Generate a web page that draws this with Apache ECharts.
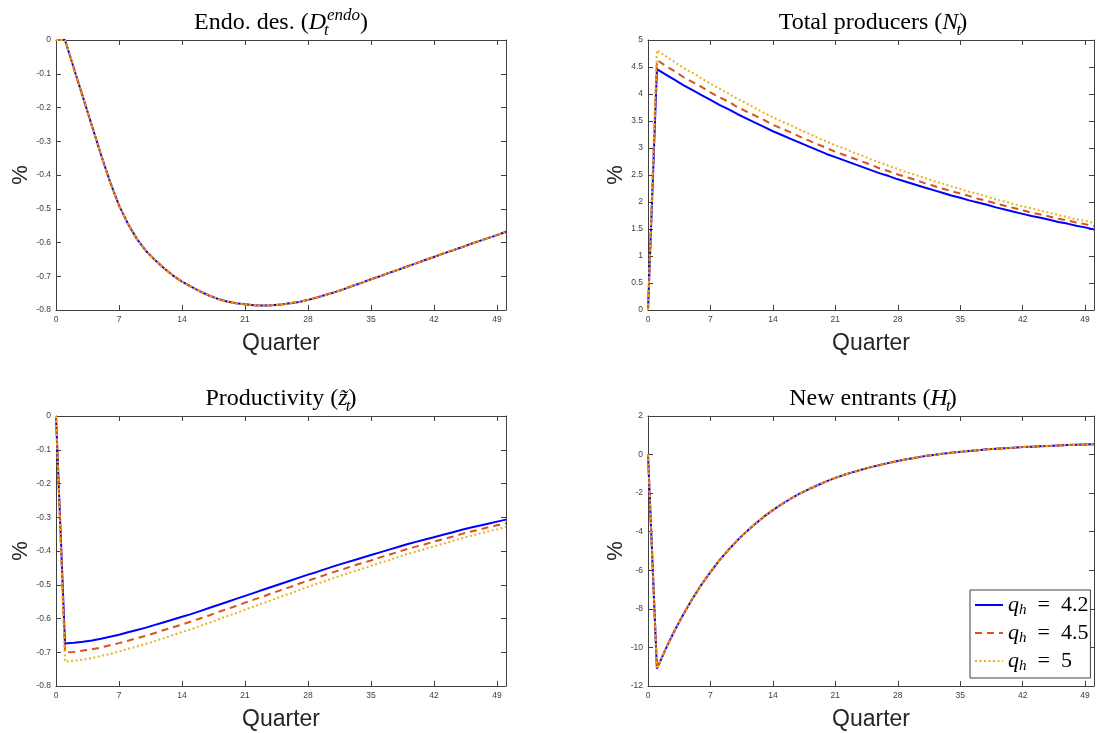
<!DOCTYPE html>
<html>
<head>
<meta charset="utf-8">
<script src="https://cdn.jsdelivr.net/npm/echarts@6.0.0/dist/echarts.min.js"></script>
<style>
  html, body { margin: 0; padding: 0; background: #fff; }
  #graph { width: 1097px; height: 733px; }
</style>
</head>
<body>
<div id="graph"></div>
<script>
var quarters = [0, 1, 2, 3, 4, 5, 6, 7, 8, 9, 10, 11, 12, 13, 14, 15, 16, 17, 18, 19, 20,
  21, 22, 23, 24, 25, 26, 27, 28, 29, 30, 31, 32, 33, 34, 35, 36, 37, 38, 39, 40,
  41, 42, 43, 44, 45, 46, 47, 48, 49, 50];

// endogenous destruction, the three cases overlap
var endoDes = [0, 0, -0.085, -0.17, -0.255, -0.34, -0.42, -0.49, -0.545, -0.59, -0.625,
  -0.652, -0.676, -0.698, -0.716, -0.731, -0.745, -0.757, -0.767, -0.775, -0.780,
  -0.783, -0.786, -0.787, -0.786, -0.784, -0.780, -0.776, -0.770, -0.763, -0.755,
  -0.747, -0.738, -0.728, -0.719, -0.709, -0.700, -0.690, -0.681, -0.671, -0.662,
  -0.652, -0.643, -0.633, -0.624, -0.615, -0.605, -0.596, -0.587, -0.578, -0.568];

var producers42 = [0, 4.46, 4.36, 4.26, 4.16, 4.07, 3.98, 3.89, 3.80, 3.72, 3.63,
  3.55, 3.47, 3.39, 3.31, 3.24, 3.17, 3.10, 3.03, 2.96, 2.89,
  2.83, 2.77, 2.71, 2.65, 2.59, 2.53, 2.48, 2.42, 2.37, 2.32,
  2.27, 2.22, 2.17, 2.12, 2.08, 2.03, 1.99, 1.95, 1.90, 1.86,
  1.82, 1.78, 1.74, 1.71, 1.67, 1.63, 1.60, 1.56, 1.53, 1.49];
var producers45 = [0, 4.63, 4.52, 4.42, 4.31, 4.22, 4.13, 4.03, 3.94, 3.86, 3.76,
  3.68, 3.60, 3.52, 3.43, 3.36, 3.29, 3.21, 3.14, 3.07, 3.00,
  2.93, 2.87, 2.81, 2.75, 2.69, 2.62, 2.57, 2.51, 2.46, 2.41,
  2.35, 2.30, 2.25, 2.20, 2.16, 2.11, 2.06, 2.02, 1.97, 1.93,
  1.89, 1.85, 1.80, 1.77, 1.73, 1.69, 1.66, 1.62, 1.59, 1.55];
var producers50 = [0, 4.81, 4.70, 4.59, 4.48, 4.39, 4.29, 4.19, 4.10, 4.01, 3.91,
  3.83, 3.74, 3.65, 3.57, 3.49, 3.42, 3.34, 3.27, 3.19, 3.12,
  3.05, 2.99, 2.92, 2.86, 2.79, 2.73, 2.67, 2.61, 2.55, 2.50,
  2.45, 2.39, 2.34, 2.29, 2.24, 2.19, 2.15, 2.10, 2.05, 2.01,
  1.96, 1.92, 1.88, 1.84, 1.80, 1.76, 1.72, 1.68, 1.65, 1.61];

var productivity42 = [0, -0.674, -0.672, -0.669, -0.665, -0.660, -0.654, -0.648, -0.641, -0.634, -0.627,
  -0.619, -0.611, -0.603, -0.595, -0.587, -0.578, -0.569, -0.560, -0.551, -0.542,
  -0.533, -0.524, -0.515, -0.506, -0.497, -0.488, -0.479, -0.470, -0.462, -0.453,
  -0.444, -0.436, -0.428, -0.420, -0.412, -0.404, -0.396, -0.388, -0.380, -0.373,
  -0.366, -0.359, -0.352, -0.345, -0.338, -0.331, -0.325, -0.319, -0.313, -0.307];
var productivity45 = [0, -0.701, -0.699, -0.695, -0.691, -0.686, -0.679, -0.673, -0.666, -0.658, -0.651,
  -0.643, -0.634, -0.626, -0.618, -0.609, -0.600, -0.591, -0.581, -0.572, -0.563,
  -0.553, -0.544, -0.535, -0.525, -0.516, -0.507, -0.497, -0.488, -0.479, -0.470,
  -0.461, -0.453, -0.444, -0.436, -0.428, -0.419, -0.411, -0.403, -0.394, -0.387,
  -0.380, -0.372, -0.365, -0.358, -0.350, -0.343, -0.337, -0.330, -0.324, -0.318];
var productivity50 = [0, -0.728, -0.725, -0.722, -0.717, -0.711, -0.705, -0.698, -0.690, -0.683, -0.675,
  -0.667, -0.658, -0.649, -0.640, -0.632, -0.622, -0.613, -0.603, -0.593, -0.584,
  -0.574, -0.564, -0.555, -0.545, -0.535, -0.526, -0.516, -0.506, -0.497, -0.488,
  -0.479, -0.470, -0.461, -0.453, -0.444, -0.435, -0.427, -0.418, -0.409, -0.402,
  -0.394, -0.386, -0.379, -0.371, -0.363, -0.356, -0.349, -0.342, -0.336, -0.329];

// new entrants, the three cases overlap
var entrants = [0, -11.1, -10.06, -9.11, -8.25, -7.46, -6.74, -6.09, -5.49, -4.95, -4.46,
  -4.01, -3.60, -3.22, -2.88, -2.57, -2.29, -2.03, -1.80, -1.59, -1.39,
  -1.21, -1.05, -0.91, -0.77, -0.65, -0.54, -0.43, -0.33, -0.24, -0.16,
  -0.08, -0.02, 0.04, 0.09, 0.14, 0.19, 0.23, 0.27, 0.30, 0.33,
  0.36, 0.39, 0.41, 0.43, 0.45, 0.47, 0.49, 0.51, 0.52, 0.53];

var seriesNames = ['qh = 4.2', 'qh = 4.5', 'qh = 5'];
var titles = [
  '{r|Endo. des. (}{i|D}{sub|t}{sup|endo}{r|)}',
  '{r|Total producers (}{i|N}{sub|t}{r|)}',
  '{r|Productivity (}{i|z\u0303}{sub|t}{r|)}',
  '{r|New entrants (}{i|H}{sub|t}{r|)}'
];

var lineStyles = [
  { color: '#0000ff', width: 2, type: 'solid' },
  { color: '#d95319', width: 2, type: [7, 5] },
  { color: '#edb120', width: 2, type: [2, 2.5] }
];

var panels = [
  { left: 56, top: 40, min: -0.8, max: 0, interval: 0.1, gap: 24, lines: [endoDes, endoDes, endoDes] },
  { left: 648, top: 40, min: 0, max: 5, interval: 0.5, gap: 17, lines: [producers42, producers45, producers50] },
  { left: 56, top: 416, min: -0.8, max: 0, interval: 0.1, gap: 24, lines: [productivity42, productivity45, productivity50] },
  { left: 648, top: 416, min: -12, max: 2, interval: 2, gap: 17, lines: [entrants, entrants, entrants] }
];

var axisColor = '#404040';
var grids = [], xAxes = [], yAxes = [], series = [], graphics = [];

var titleRich = {
  r: { fontFamily: 'Liberation Serif', fontSize: 24, lineHeight: 32, color: '#000' },
  i: { fontFamily: 'Liberation Serif', fontSize: 24, fontStyle: 'italic', lineHeight: 32, color: '#000' },
  sub: { fontFamily: 'Liberation Serif', fontSize: 17, fontStyle: 'italic', lineHeight: 18, verticalAlign: 'bottom', width: 1, color: '#000' },
  sup: { fontFamily: 'Liberation Serif', fontSize: 17, fontStyle: 'italic', lineHeight: 20, verticalAlign: 'top', color: '#000' }
};

panels.forEach(function (p, k) {
  grids.push({ left: p.left, top: p.top, width: 450, height: 270, containLabel: false });
  ['bottom', 'top'].forEach(function (pos) {
    xAxes.push({
      type: 'value', gridIndex: k, position: pos, min: 0, max: 50, interval: 7,
      axisLine: { show: true, onZero: false, lineStyle: { color: axisColor, width: 1 } },
      axisTick: { show: true, inside: true, length: 5, lineStyle: { color: axisColor } },
      axisLabel: {
        show: pos === 'bottom', fontSize: 8.5, color: '#404040', margin: 5,
        fontFamily: 'Liberation Sans',
        formatter: function (v) { return v === 50 ? '' : String(v); }
      },
      splitLine: { show: false },
      name: pos === 'bottom' ? 'Quarter' : '',
      nameLocation: 'middle', nameGap: 22,
      nameTextStyle: { fontSize: 23, fontFamily: 'Liberation Sans', color: '#262626' }
    });
  });
  ['left', 'right'].forEach(function (pos) {
    yAxes.push({
      type: 'value', gridIndex: k, position: pos, min: p.min, max: p.max, interval: p.interval,
      axisLine: { show: true, onZero: false, lineStyle: { color: axisColor, width: 1 } },
      axisTick: { show: true, inside: true, length: 5, lineStyle: { color: axisColor } },
      axisLabel: { show: pos === 'left', fontSize: 8.5, color: '#404040', margin: 5, fontFamily: 'Liberation Sans' },
      splitLine: { show: false },
      name: pos === 'left' ? '%' : '',
      nameLocation: 'middle', nameGap: p.gap,
      nameTextStyle: { fontSize: 22, fontFamily: 'Liberation Sans', color: '#262626' }
    });
  });
  p.lines.forEach(function (vals, j) {
    series.push({
      name: seriesNames[j], type: 'line', xAxisIndex: k * 2, yAxisIndex: k * 2,
      data: quarters.map(function (q, i) { return [q, vals[i]]; }),
      symbol: 'none', showSymbol: false, lineStyle: lineStyles[j],
      itemStyle: { color: lineStyles[j].color }, z: 2 + j
    });
  });
  graphics.push({
    type: 'text', x: p.left + 225, y: p.top - 17,
    style: { text: titles[k], rich: titleRich, align: 'center', verticalAlign: 'middle', textAlign: 'center', textVerticalAlign: 'middle' }
  });
});

var chart = echarts.init(document.getElementById('graph'));
chart.setOption({
  animation: false,
  backgroundColor: '#fff',
  grid: grids,
  xAxis: xAxes,
  yAxis: yAxes,
  series: series,
  graphic: graphics,
  legend: {
    data: seriesNames, orient: 'vertical', left: 970, top: 590,
    padding: [4, 2, 4, 4], itemGap: 4, itemWidth: 28, itemHeight: 14,
    borderColor: '#404040', borderWidth: 1, backgroundColor: '#fff',
    selectedMode: false, z: 10,
    itemStyle: { color: 'rgba(0,0,0,0)', borderWidth: 0, opacity: 0 },
    formatter: function (name) {
      return '{i|q}{s|h}{n|\u2002=\u2002' + name.split('= ')[1] + '}';
    },
    textStyle: {
      rich: {
        i: { fontFamily: 'Liberation Serif', fontSize: 22, fontStyle: 'italic', lineHeight: 26, color: '#000' },
        s: { fontFamily: 'Liberation Serif', fontSize: 15, fontStyle: 'italic', lineHeight: 14.5, verticalAlign: 'bottom', color: '#000' },
        n: { fontFamily: 'Liberation Serif', fontSize: 22, lineHeight: 26, color: '#000' }
      }
    }
  }
});
</script>
</body>
</html>
